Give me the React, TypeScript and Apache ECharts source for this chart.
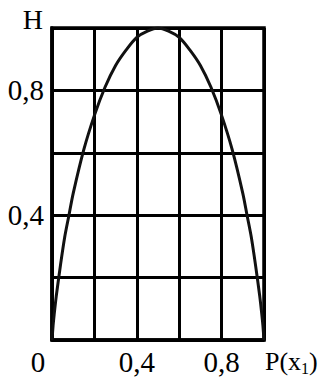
import React, { useEffect, useRef } from "react";
import * as echarts from "echarts";

const pValues = [0, 0.005, 0.01, 0.02, 0.04, 0.06, 0.08, 0.1, 0.15, 0.2, 0.25, 0.3, 0.35, 0.4, 0.45, 0.5,
  0.55, 0.6, 0.65, 0.7, 0.75, 0.8, 0.85, 0.9, 0.92, 0.94, 0.96, 0.98, 0.99, 0.995, 1];
const hValues = [0, 0.045, 0.08, 0.14, 0.24, 0.33, 0.40, 0.47, 0.61, 0.72, 0.81, 0.88, 0.93, 0.97, 0.99, 1.0,
  0.99, 0.97, 0.93, 0.88, 0.81, 0.72, 0.61, 0.47, 0.40, 0.33, 0.24, 0.14, 0.08, 0.045, 0];
const xTickLabels: Record<string, string> = { "0": "{z|0}", "0.4": "0,4", "0.8": "0,8" };
const yTickLabels: Record<string, string> = { "0.4": "0,4", "0.8": "0,8" };

const FONT = "'Liberation Serif', 'Times New Roman', serif";

export default function App() {
  const ref = useRef<HTMLDivElement>(null);
  useEffect(() => {
    if (!ref.current) return;
    const chart = echarts.init(ref.current, undefined, { renderer: "svg" });
    const gridLine = { show: true, lineStyle: { color: "#000", width: 3 } };
    chart.setOption({
      animation: false,
      backgroundColor: "#fff",
      grid: { left: 52, right: 59, top: 28, bottom: 37, show: true, borderColor: "#000", borderWidth: 3.5 },
      xAxis: {
        type: "value", min: 0, max: 1, interval: 0.2,
        axisLine: { show: true, lineStyle: { color: "#000", width: 3.5 } },
        axisTick: { show: false },
        splitLine: gridLine,
        axisLabel: {
          color: "#000", fontFamily: FONT, fontSize: 29, margin: 7,
          formatter: (v: number) => xTickLabels[String(Math.round(v * 10) / 10)] ?? "",
          rich: { z: { fontFamily: FONT, fontSize: 29, color: "#000", padding: [0, 28, 0, 0] } },
        },
        name: "P(x{s|1})",
        nameLocation: "end",
        nameGap: 1,
        nameTextStyle: {
          color: "#000", fontFamily: FONT, fontSize: 26, align: "left", verticalAlign: "top",
          padding: [7, 0, 0, 0],
          rich: { s: { fontFamily: FONT, fontSize: 16, color: "#000", padding: [13, 0, 0, 0] } },
        },
      },
      yAxis: {
        type: "value", min: 0, max: 1, interval: 0.2,
        axisLine: { show: true, lineStyle: { color: "#000", width: 3.5 } },
        axisTick: { show: false },
        splitLine: gridLine,
        axisLabel: {
          color: "#000", fontFamily: FONT, fontSize: 29, margin: 8,
          formatter: (v: number) => yTickLabels[String(Math.round(v * 10) / 10)] ?? "",
        },
        name: "H",
        nameLocation: "end",
        nameGap: 9,
        nameTextStyle: {
          color: "#000", fontFamily: FONT, fontSize: 28, align: "right", verticalAlign: "middle",
          padding: [0, 9, 0, 0],
        },
      },
      series: [
        {
          type: "line",
          data: pValues.map((p, i) => [p, hValues[i]]),
          smooth: 0.3,
          showSymbol: false,
          lineStyle: { color: "#111", width: 3 },
        },
      ],
    });
    return () => chart.dispose();
  }, []);
  return <div ref={ref} style={{ position: "fixed", left: 0, top: 0, width: 323, height: 377 }} />;
}
